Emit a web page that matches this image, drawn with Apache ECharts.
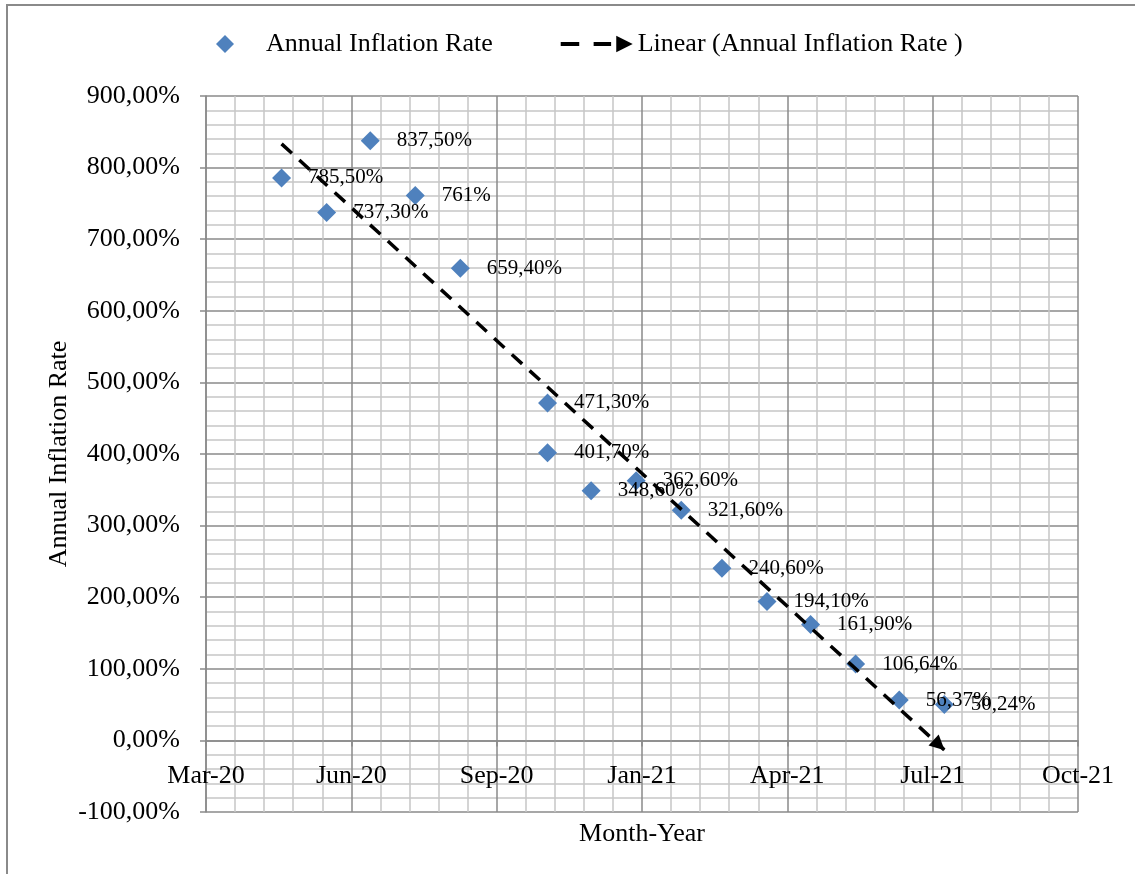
<!DOCTYPE html>
<html>
<head>
<meta charset="utf-8">
<script src="https://cdn.jsdelivr.net/npm/echarts@6/dist/echarts.min.js"></script>
<style>
html,body{margin:0;padding:0;background:#fff;}
#chart{width:1135px;height:874px;}
</style>
</head>
<body>
<div id="chart"></div>
<script>
// ---- Data ----
const dates = ['2020-05-01','2020-06-01','2020-07-01','2020-08-01','2020-09-01','2020-10-31','2020-10-31','2020-11-30','2020-12-31','2021-01-31','2021-02-28','2021-03-31','2021-04-30','2021-05-31','2021-06-30','2021-07-31'];
const rates = [785.5, 737.3, 837.5, 761, 659.4, 471.3, 401.7, 348.6, 362.6, 321.6, 240.6, 194.1, 161.9, 106.64, 56.37, 50.24];
const seriesName = 'Annual Inflation Rate';
const trendName = 'Linear (Annual Inflation Rate )';
const xAxisMinDate = '2020-03-10';
const xAxisMaxDate = '2021-10-31';
const xStepDays = 100;
const yMin = -100, yMax = 900, yStep = 100;
const monthNames = ['Jan','Feb','Mar','Apr','May','Jun','Jul','Aug','Sep','Oct','Nov','Dec'];

const FONT = "'Times New Roman','Liberation Serif',serif";
const EPOCH = Date.UTC(1899, 11, 30);
function toSerial(s) {
  const p = s.split('-').map(Number);
  return Math.round((Date.UTC(p[0], p[1] - 1, p[2]) - EPOCH) / 86400000);
}
function fmtDate(serial) {
  const d = new Date(EPOCH + serial * 86400000);
  return monthNames[d.getUTCMonth()] + '-' + String(d.getUTCFullYear()).slice(2);
}
function fmtPct(v) { return v.toFixed(2).replace('.', ',') + '%'; }
function fmtLabel(v) { return Number.isInteger(v) ? v + '%' : v.toFixed(2).replace('.', ',') + '%'; }

const xs = dates.map(toSerial);
const points = xs.map((x, i) => [x, rates[i]]);

// least squares linear trend (as Excel's linear trendline)
const n = xs.length;
const mx = xs.reduce((a, b) => a + b, 0) / n;
const my = rates.reduce((a, b) => a + b, 0) / n;
let sxy = 0, sxx = 0;
for (let i = 0; i < n; i++) { sxy += (xs[i] - mx) * (rates[i] - my); sxx += (xs[i] - mx) * (xs[i] - mx); }
const slope = sxy / sxx;
const intercept = my - slope * mx;
const x0 = Math.min(...xs), x1 = Math.max(...xs);

// layout
const W = 1135, H = 874;
const gridTop = 96, gridBottom = 62;
const gridH = H - gridTop - gridBottom;
// x axis crosses the value axis at 0 (Excel style): move it up from the bottom edge
const xAxisOffset = -((0 - yMin) / (yMax - yMin)) * gridH;

const chart = echarts.init(document.getElementById('chart'));
const majorGrid = { color: '#8a8a8a', width: 1.5 };
const minorGrid = { color: '#c6c6c6', width: 1.5 };

chart.setOption({
  animation: false,
  backgroundColor: '#fff',
  graphic: [{
    type: 'rect', silent: true, z: -10,
    shape: { x: 7, y: 5, width: 1300, height: 1000 },
    style: { fill: 'none', stroke: '#8a8a8a', lineWidth: 2 }
  }],
  legend: {
    left: 211, top: 26,
    itemWidth: 72, itemHeight: 18, itemGap: 68,
    selectedMode: false,
    symbolKeepAspect: true,
    textStyle: { fontSize: 26, color: '#000', fontFamily: FONT },
    data: [
      { name: seriesName, icon: 'path://M8,0L16,8L8,16L0,8Z', itemStyle: { color: '#4F81BD', opacity: 1 } },
      { name: trendName, icon: 'path://M0,6L18,6L18,10L0,10Z M32,6L49,6L49,10L32,10Z M54,0L70,8L54,16Z', itemStyle: { color: '#000', borderWidth: 0 } }
    ]
  },
  grid: { left: 206, right: 57, top: gridTop, bottom: gridBottom, outerBoundsMode: 'none', containLabel: false },
  xAxis: {
    type: 'value',
    position: 'bottom',
    offset: xAxisOffset,
    min: toSerial(xAxisMinDate), max: toSerial(xAxisMaxDate), interval: xStepDays,
    axisLine: { show: true, onZero: false, lineStyle: { color: '#8a8a8a', width: 1.5 } },
    axisTick: { show: true, length: 6, lineStyle: { color: '#8a8a8a', width: 1.5 } },
    axisLabel: { formatter: fmtDate, fontSize: 26, color: '#000', fontFamily: FONT, margin: 23 },
    splitLine: { show: true, lineStyle: majorGrid },
    minorTick: { show: false, splitNumber: 5 },
    minorSplitLine: { show: true, lineStyle: minorGrid },
    name: 'Month-Year', nameLocation: 'middle', nameGap: 81, nameMoveOverlap: false,
    nameTextStyle: { fontSize: 26, color: '#000', fontFamily: FONT }
  },
  yAxis: {
    type: 'value',
    min: yMin, max: yMax, interval: yStep,
    axisLine: { show: true, onZero: false, lineStyle: { color: '#8a8a8a', width: 1.5 } },
    axisTick: { show: true, length: 6, lineStyle: { color: '#8a8a8a', width: 1.5 } },
    axisLabel: { formatter: fmtPct, fontSize: 26, color: '#000', fontFamily: FONT, margin: 26 },
    splitLine: { show: true, lineStyle: majorGrid },
    minorTick: { show: false, splitNumber: 5 },
    minorSplitLine: { show: true, lineStyle: minorGrid },
    name: 'Annual Inflation Rate', nameLocation: 'middle', nameGap: 134, nameRotate: 90, nameMoveOverlap: false,
    nameTextStyle: { fontSize: 26, color: '#000', fontFamily: FONT }
  },
  series: [
    {
      name: seriesName,
      type: 'scatter',
      z: 2,
      symbol: 'diamond',
      symbolSize: 19,
      itemStyle: { color: '#4F81BD', opacity: 1 },
      label: {
        show: true, position: 'right', distance: 17,
        formatter: p => fmtLabel(p.value[1]),
        fontSize: 21, color: '#000', fontFamily: FONT
      },
      emphasis: { disabled: true },
      data: points
    },
    {
      name: trendName,
      type: 'line',
      z: 3,
      color: '#000',
      itemStyle: { color: '#000' },
      lineStyle: { color: '#000', width: 3.5, type: [14, 10] },
      data: [],
      markLine: {
        silent: true,
        symbol: ['none', 'triangle'],
        symbolSize: [15, 15],
        symbolOffset: [0, [0, 7]],
        label: { show: false },
        emphasis: { disabled: true },
        lineStyle: { color: '#000', width: 3.5, type: [14, 10] },
        data: [[
          { coord: [x0, intercept + slope * x0] },
          { coord: [x1, intercept + slope * x1] }
        ]]
      }
    }
  ]
});
</script>
</body>
</html>
